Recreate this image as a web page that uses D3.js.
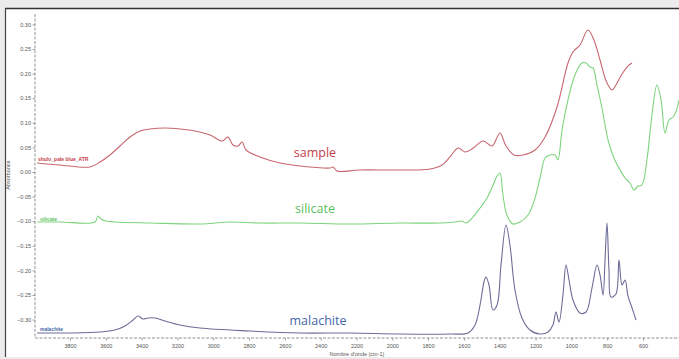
<!DOCTYPE html>
<html><head><meta charset="utf-8">
<script src="https://cdn.jsdelivr.net/npm/d3@7"></script>
<style>
html,body{margin:0;padding:0;background:#ececec;}
svg{display:block;}
</style></head>
<body>
<svg id="chart" width="679" height="359"></svg>
<script>
// ---- data (wavenumber cm-1, absorbance) ----
const sampleWave = [3984,3856,3688,3632,3577,3521,3465,3409,3353,3269,3186,3102,3018,2951,2918,2890,2862,2839,2817,2739,2627,2515,2348,2331,2309,2180,1957,1789,1722,1678,1633,1594,1555,1493,1443,1399,1365,1320,1270,1203,1147,1080,1019,991,952,907,874,840,812,795,773,751,717,684,661];
const sampleAbs = [0.0183,0.0142,0.0102,0.0203,0.0346,0.0528,0.0711,0.0833,0.0874,0.0894,0.0874,0.0833,0.0752,0.0630,0.0711,0.0549,0.0528,0.0610,0.0447,0.0305,0.0183,0.0122,0.0081,0.0102,0.0020,0.0041,0.0041,0.0061,0.0142,0.0305,0.0488,0.0407,0.0467,0.0630,0.0528,0.0793,0.0528,0.0346,0.0346,0.0447,0.0711,0.1321,0.2215,0.2439,0.2581,0.2886,0.2683,0.2276,0.1911,0.1768,0.1667,0.1768,0.1992,0.2154,0.2215];

const silicateWave = [3984,3856,3660,3644,3627,3599,3549,3353,3074,2906,2739,2515,2236,1957,1734,1650,1611,1588,1549,1510,1471,1437,1415,1399,1382,1360,1326,1287,1242,1203,1175,1147,1119,1091,1075,1052,1019,980,941,918,896,879,857,829,795,762,728,700,673,650,628,606,578,550,522,499,477,455,432,416,399];
const silicateAbs = [-0.1016,-0.1016,-0.1016,-0.0894,-0.0955,-0.0996,-0.1016,-0.1037,-0.1057,-0.1016,-0.1037,-0.1037,-0.1057,-0.1037,-0.1037,-0.1016,-0.0996,-0.1037,-0.0915,-0.0732,-0.0528,-0.0264,-0.0081,-0.0020,-0.0467,-0.0874,-0.1057,-0.1016,-0.0874,-0.0528,-0.0122,0.0285,0.0346,0.0346,0.0244,0.0854,0.1463,0.1972,0.2215,0.2215,0.2134,0.2114,0.1768,0.1301,0.0650,0.0285,0.0041,-0.0122,-0.0224,-0.0366,-0.0285,-0.0264,0.0244,0.1159,0.1768,0.1463,0.0793,0.1057,0.1118,0.1220,0.1463];

const malachiteWave = [3984,3800,3632,3549,3493,3448,3420,3392,3364,3325,3269,3186,3074,2795,2515,2236,1957,1678,1577,1538,1510,1488,1477,1460,1438,1415,1393,1365,1343,1315,1276,1231,1175,1130,1103,1086,1069,1047,1030,1013,991,952,918,885,857,840,823,812,801,790,779,751,734,717,700,684,661,639];
const malachiteAbs = [-0.3272,-0.3272,-0.3252,-0.3211,-0.3130,-0.3008,-0.2927,-0.2988,-0.2967,-0.2967,-0.3028,-0.3110,-0.3171,-0.3232,-0.3272,-0.3272,-0.3293,-0.3293,-0.3272,-0.3110,-0.2703,-0.2236,-0.2134,-0.2297,-0.2805,-0.2703,-0.1890,-0.1077,-0.1484,-0.2398,-0.2967,-0.3211,-0.3293,-0.3252,-0.3110,-0.2846,-0.3049,-0.2500,-0.1890,-0.2195,-0.2602,-0.2866,-0.2846,-0.2358,-0.1890,-0.2093,-0.2500,-0.1789,-0.1037,-0.1992,-0.2541,-0.2480,-0.1789,-0.2297,-0.2195,-0.2520,-0.2764,-0.3008];

const xTicks = [3800,3600,3400,3200,3000,2800,2600,2400,2200,2000,1800,1600,1400,1200,1000,800,600];
const yTicks = [0.30,0.25,0.20,0.15,0.10,0.05,0.00,-0.05,-0.10,-0.15,-0.20,-0.25,-0.30];
const seriesNames = ["sample","silicate","malachite"];
const smallLabels = ["shulo_pale blue_ATR","silicate","malachite"];

// ---- drawing ----
const svg = d3.select("#chart");
const W = 679, H = 359;

// panel
svg.append("rect").attr("x",0).attr("y",0).attr("width",W).attr("height",H).attr("fill","#ececec");
svg.append("rect").attr("x",5).attr("y",8).attr("width",W-5).attr("height",349).attr("fill","#ffffff");
svg.append("line").attr("x1",5).attr("x2",W).attr("y1",8.5).attr("y2",8.5).attr("stroke","#333").attr("stroke-width",1.5);
svg.append("line").attr("x1",5.5).attr("x2",5.5).attr("y1",8).attr("y2",357).attr("stroke","#444").attr("stroke-width",1.2);

const x = d3.scaleLinear().domain([4000,400]).range([34.2,678.8]);
const y = d3.scaleLinear().domain([0,0.05]).range([172,147.4]);
const axisY = 338, axisX = 35;

// axes lines (dashed)
svg.append("line").attr("x1",axisX).attr("x2",W).attr("y1",axisY).attr("y2",axisY)
  .attr("stroke","#777").attr("stroke-width",0.8).attr("stroke-dasharray","3,1.5");
svg.append("line").attr("x1",axisX).attr("x2",axisX).attr("y1",14).attr("y2",axisY)
  .attr("stroke","#777").attr("stroke-width",0.8).attr("stroke-dasharray","3,1.5");

const xAxis = d3.axisBottom(x).tickValues(xTicks).tickSize(2.5).tickFormat(d3.format("d"));
const gx = svg.append("g").attr("transform",`translate(0,${axisY})`).call(xAxis);
gx.select(".domain").remove();
gx.selectAll("line").attr("stroke","#777").attr("stroke-width",0.7);
gx.selectAll("text").attr("font-family","Liberation Sans, Arial, sans-serif").attr("font-size",5.5).attr("fill","#555").attr("dy","0.9em");

const yAxis = d3.axisLeft(y).tickValues(yTicks).tickSize(2.5).tickFormat(d3.format(".2f"));
const gy = svg.append("g").attr("transform",`translate(${axisX},0)`).call(yAxis);
gy.select(".domain").remove();
gy.selectAll("line").attr("stroke","#777").attr("stroke-width",0.7);
gy.selectAll("text").attr("font-family","Liberation Sans, Arial, sans-serif").attr("font-size",5.5).attr("fill","#555").attr("x",-4);

// axis titles
svg.append("text").attr("x",357).attr("y",355.5).attr("text-anchor","middle")
  .attr("font-family","Liberation Sans, Arial, sans-serif").attr("font-size",5.5).attr("fill","#555")
  .text("Nombre d'onde (cm-1)");
svg.append("text").attr("transform","translate(10,175) rotate(-90)").attr("text-anchor","middle")
  .attr("font-family","Liberation Sans, Arial, sans-serif").attr("font-size",5.5).attr("fill","#555")
  .text("Absorbance");

// series
const colors = ["#c8666f","#7dd47d","#6c6c98"];
const textColors = ["#c4404c","#5cc05c","#4566a8"];
const waves = [sampleWave, silicateWave, malachiteWave];
const absorb = [sampleAbs, silicateAbs, malachiteAbs];
const line = d3.line().x(d=>x(d[0])).y(d=>y(d[1])).curve(d3.curveCatmullRom.alpha(0.5));
waves.forEach((w,i)=>{
  const pts = w.map((v,j)=>[v,absorb[i][j]]);
  svg.append("path").datum(pts).attr("d",line).attr("fill","none")
    .attr("stroke",colors[i]).attr("stroke-width",1.1);
});

// big labels
const bigPos = [[315,157],[315,213],[318,325]];
seriesNames.forEach((n,i)=>{
  svg.append("text").attr("x",bigPos[i][0]).attr("y",bigPos[i][1]).attr("text-anchor","middle")
    .attr("font-family","Open Sans, Noto Sans, sans-serif").attr("font-size",12.5).attr("fill",textColors[i])
    .text(n);
});
// small labels
const smallPos = [[38,161],[40,221],[40,331]];
smallLabels.forEach((n,i)=>{
  svg.append("text").attr("x",smallPos[i][0]).attr("y",smallPos[i][1])
    .attr("font-family","Liberation Sans, Arial, sans-serif").attr("font-size",5).attr("font-weight","bold").attr("fill",textColors[i])
    .text(n);
});
</script>
</body></html>
